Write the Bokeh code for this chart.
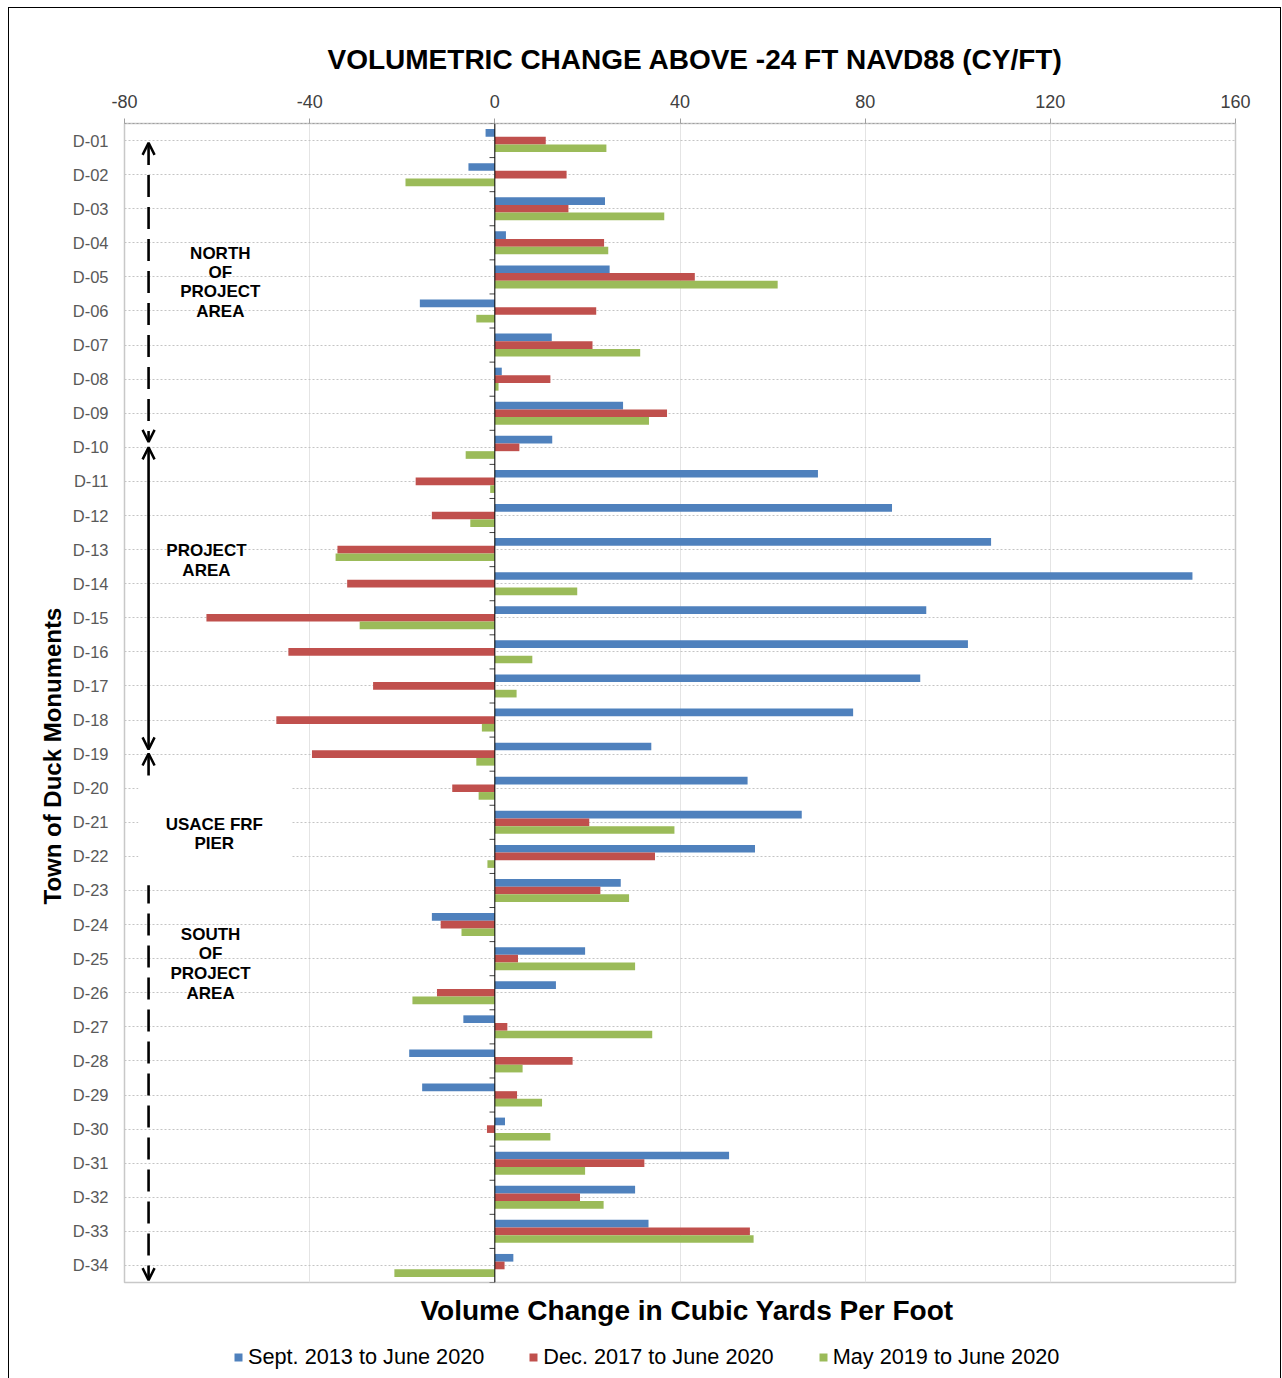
from bokeh.plotting import figure
from bokeh.layouts import column
from bokeh.models import (Range1d, FixedTicker, Legend, LegendItem, Title, Span,
                          Arrow, OpenHead, Label, BoxAnnotation, ColumnDataSource)
from bokeh.embed import file_html
from bokeh.resources import INLINE

# ---------------- data ----------------
monuments = ["D-01", "D-02", "D-03", "D-04", "D-05", "D-06", "D-07", "D-08", "D-09", "D-10",
             "D-11", "D-12", "D-13", "D-14", "D-15", "D-16", "D-17", "D-18", "D-19", "D-20",
             "D-21", "D-22", "D-23", "D-24", "D-25", "D-26", "D-27", "D-28", "D-29", "D-30",
             "D-31", "D-32", "D-33", "D-34"]

sept2013_june2020 = [-2.0, -5.7, 23.8, 2.4, 24.8, -16.2, 12.3, 1.5, 27.7, 12.4,
                     69.8, 85.8, 107.2, 150.7, 93.2, 102.2, 91.9, 77.4, 33.8, 54.6,
                     66.3, 56.2, 27.2, -13.6, 19.5, 13.2, -6.8, -18.5, -15.7, 2.2,
                     50.6, 30.3, 33.2, 4.0]
dec2017_june2020 = [11.0, 15.5, 15.9, 23.6, 43.2, 21.9, 21.1, 12.0, 37.2, 5.3,
                    -17.1, -13.6, -34.0, -31.9, -62.3, -44.6, -26.3, -47.2, -39.5, -9.2,
                    20.4, 34.6, 22.8, -11.7, 5.0, -12.5, 2.7, 16.8, 4.8, -1.7,
                    32.3, 18.4, 55.1, 2.1]
may2019_june2020 = [24.1, -19.3, 36.6, 24.5, 61.1, -4.0, 31.4, 0.8, 33.3, -6.3,
                    -1.0, -5.3, -34.4, 17.8, -29.2, 8.1, 4.7, -2.8, -4.0, -3.5,
                    38.8, -1.6, 29.0, -7.2, 30.3, -17.8, 34.0, 6.0, 10.2, 12.0,
                    19.5, 23.5, 55.9, -21.7]

series_names = ["Sept. 2013 to June 2020", "Dec. 2017 to June 2020", "May 2019 to June 2020"]
x_ticks = [-80, -40, 0, 40, 80, 120, 160]
x_tick_labels = ["-80", "-40", "0", "40", "80", "120", "160"]

title_text = "VOLUMETRIC CHANGE ABOVE -24 FT NAVD88 (CY/FT)"
x_title = "Volume Change in Cubic Yards Per Foot"
y_title = "Town of Duck Monuments"

# ---------------- style ----------------
colors = ["#4F81BD", "#C0504D", "#9BBB59"]
FONT = "Liberation Sans"
n = len(monuments)
bar_h = 0.225
offsets = [-bar_h, 0.0, bar_h]

p = figure(width=1271, height=1327,
           x_range=Range1d(x_ticks[0], x_ticks[-1]),
           y_range=Range1d(n - 0.5, -0.5),
           x_axis_location="above",
           output_backend="svg", toolbar_location=None,
           min_border_left=115, min_border_top=115,
           min_border_right=45, min_border_bottom=53)
p.background_fill_color = "white"
p.border_fill_color = "white"
p.outline_line_color = "#c8c8c8"
p.outline_line_width = 1.5

# title
p.title.text = title_text
p.title.text_font = FONT
p.title.text_font_size = "28px"
p.title.text_font_style = "bold"
p.title.text_color = "black"
p.title.align = "left"
p.title.offset = 203
p.title.standoff = 34

# top x axis
xa = p.xaxis[0]
xa.ticker = FixedTicker(ticks=x_ticks)
xa.major_label_overrides = {t: s for t, s in zip(x_ticks, x_tick_labels)}
xa.major_label_text_font = FONT
xa.major_label_text_font_size = "18px"
xa.major_label_text_color = "#404040"
xa.major_tick_out = 5
xa.major_tick_in = 0
xa.minor_tick_out = 0
xa.minor_tick_in = 0
xa.major_tick_line_color = "#a0a0a0"
xa.axis_line_color = "#a0a0a0"
xa.axis_line_dash = "2 2"
xa.major_label_standoff = 11

# left category axis
ya = p.yaxis[0]
ya.ticker = FixedTicker(ticks=list(range(n)))
ya.major_label_overrides = {i: m for i, m in enumerate(monuments)}
ya.major_label_text_font = FONT
ya.major_label_text_font_size = "16.5px"
ya.major_label_text_color = "#595959"
ya.major_tick_out = 0
ya.major_tick_in = 0
ya.minor_tick_out = 0
ya.minor_tick_in = 0
ya.axis_line_color = None
ya.major_label_standoff = 16

# y axis title (placed as a side title so it can sit lower, like the reference)
yt = Title(text=y_title, align="left", text_font=FONT, text_font_size="24px",
           text_font_style="bold", text_color="black", offset=378, standoff=7)
p.add_layout(yt, "left")

# grids
p.xgrid.grid_line_color = "#e4e4e4"
p.xgrid.grid_line_width = 1
p.ygrid.grid_line_color = "#c4c4c4"
p.ygrid.grid_line_dash = "2 2"
p.ygrid.grid_line_width = 1

# bars
renderers = []
sources = []
for vals, off, col in zip([sept2013_june2020, dec2017_june2020, may2019_june2020], offsets, colors):
    src = ColumnDataSource(dict(y=[i + off for i in range(n)], right=vals, left=[0] * n))
    sources.append(src)
    r = p.hbar(y="y", left="left", right="right", height=bar_h, source=src,
               fill_color=col, line_color=None)
    renderers.append(r)

# zero line and category tick marks at the zero crossing
p.add_layout(Span(location=0, dimension="height", line_color="black", line_width=1))
bounds = [i - 0.5 for i in range(n + 1)]
p.segment(x0=[-1.15] * len(bounds), x1=[0] * len(bounds), y0=bounds, y1=bounds,
          line_color="#404040", line_width=1)

# region arrows
arrow_x = -74.8
arrow_specs = [  # (start, end, dashed)
    (0.07, 8.84, True),
    (9.0, 17.86, False),
    (17.98, 33.43, True),
]
for y0, y1, dashed in arrow_specs:
    a = Arrow(x_start=arrow_x, y_start=y0, x_end=arrow_x, y_end=y1,
              start=OpenHead(size=12, line_width=2.5, line_color="black"),
              end=OpenHead(size=12, line_width=2.5, line_color="black"),
              line_width=2.6, line_color="black",
              line_dash="22 10" if dashed else "solid")
    p.add_layout(a)
# pier text box (white, hides gridlines and the middle of the south arrow)
p.add_layout(BoxAnnotation(left=-77, right=-44, top=18.72, bottom=21.85,
                           fill_color="white", fill_alpha=1.0, line_color=None))

# region labels
region_labels = [
    (-59.3, [3.30, 3.86, 4.44, 5.01], ["NORTH", "OF", "PROJECT", "AREA"]),
    (-62.3, [12.04, 12.60], ["PROJECT", "AREA"]),
    (-60.6, [20.05, 20.62], ["USACE FRF", "PIER"]),
    (-61.4, [23.30, 23.86, 24.43, 25.02], ["SOUTH", "OF", "PROJECT", "AREA"]),
]
for x, ys, lines in region_labels:
    for yy, t in zip(ys, lines):
        p.add_layout(Label(x=x, y=yy, text=t, text_font=FONT, text_font_size="17px",
                           text_font_style="bold", text_color="black",
                           text_align="center", text_baseline="middle"))

# bottom axis title
bt = Title(text=x_title, align="left", text_font=FONT, text_font_size="28px",
           text_font_style="bold", text_color="black", offset=296, standoff=20)
p.add_layout(bt, "below")

# ---------------- legend strip ----------------
# the strip's ranges lie away from the data, so only the legend entries show there
leg = figure(width=1271, height=43, x_range=Range1d(0, 1), y_range=Range1d(40, 41),
             x_axis_type=None, y_axis_type=None,
             output_backend="svg", toolbar_location=None,
             min_border_left=0, min_border_right=0, min_border_top=0, min_border_bottom=0)
leg.outline_line_color = None
leg.outline_line_alpha = 0
leg.background_fill_color = "white"
leg.border_fill_color = "white"
leg_renderers = []
for src, col in zip(sources, colors):
    leg_renderers.append(leg.hbar(y="y", left="left", right="right", height=bar_h, source=src,
                                  fill_color=col, line_color=None))
legend = Legend(items=[LegendItem(label=nm, renderers=[r]) for nm, r in zip(series_names, leg_renderers)],
                orientation="horizontal", location=(109, 8),
                glyph_width=10, glyph_height=10, label_standoff=5, spacing=44,
                label_text_font=FONT, label_text_font_size="21.7px", label_text_color="black",
                border_line_color=None, background_fill_alpha=0, padding=0, margin=0)
leg.add_layout(legend, "center")

layout = column(p, leg, spacing=0, margin=(7, 0, 0, 8),
                styles={"border": "1px solid black"})

open("out.html", "w").write(file_html(layout, INLINE))
